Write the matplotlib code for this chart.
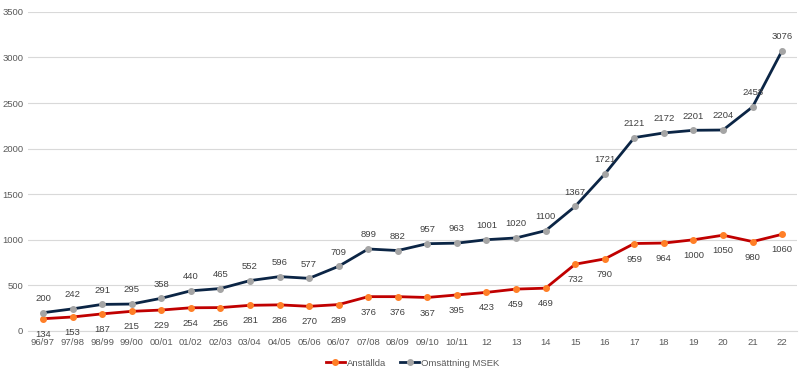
import matplotlib
matplotlib.use("Agg")
import matplotlib.pyplot as plt

categories = ["96/97","97/98","98/99","99/00","00/01","01/02","02/03","03/04","04/05","05/06",
              "06/07","07/08","08/09","09/10","10/11","12","13","14","15","16","17","18","19",
              "20","21","22"]
anstallda = [134,153,187,215,229,254,256,281,286,270,289,376,376,367,395,423,459,469,732,790,
             959,964,1000,1050,980,1060]
omsattning = [200,242,291,295,358,440,465,552,596,577,709,899,882,957,963,1001,1020,1100,1367,
              1721,2121,2172,2201,2204,2458,3076]

plt.rcParams['font.family'] = ['Liberation Sans', 'DejaVu Sans']
fig = plt.figure(figsize=(8.05, 3.71), dpi=100)
ax = fig.add_axes([0.035, 0.108, 0.955, 0.86])

x = list(range(len(categories)))
ax.plot(x, anstallda, color="#C00000", lw=2.0, marker="o", ms=4,
        mfc="#FF7F27", mec="#FF7F27", label="Anställda", zorder=3)
ax.plot(x, omsattning, color="#0B2545", lw=2.0, marker="o", ms=4,
        mfc="#A5A5A5", mec="#A5A5A5", label="Omsättning MSEK", zorder=3)

for xi, v in zip(x, anstallda):
    ax.annotate(str(v), (xi, v), xytext=(0, -8), textcoords="offset points",
                ha="center", va="top", fontsize=6.8, color="#404040")
for xi, v in zip(x, omsattning):
    ax.annotate(str(v), (xi, v), xytext=(0, 7), textcoords="offset points",
                ha="center", va="bottom", fontsize=6.8, color="#404040")

ax.set_xlim(-0.5, len(categories) - 0.5)
ax.set_ylim(0, 3500)
ax.set_yticks(range(0, 3501, 500))
ax.set_xticks(x)
ax.set_xticklabels(categories)
ax.tick_params(axis="both", length=0, labelsize=6.8, labelcolor="#595959")
ax.tick_params(axis="x", pad=5)
ax.grid(axis="y", color="#D9D9D9", lw=0.8)
ax.set_axisbelow(True)
for s in ["top", "right", "left"]:
    ax.spines[s].set_visible(False)
ax.spines["bottom"].set_color("#D9D9D9")

leg = ax.legend(loc="upper center", bbox_to_anchor=(0.5, -0.06), ncol=2, frameon=False,
                fontsize=6.8, handlelength=2.0, handletextpad=0.2, columnspacing=1.5,
                labelcolor="#595959")
fig.savefig("out.png", dpi=100)
